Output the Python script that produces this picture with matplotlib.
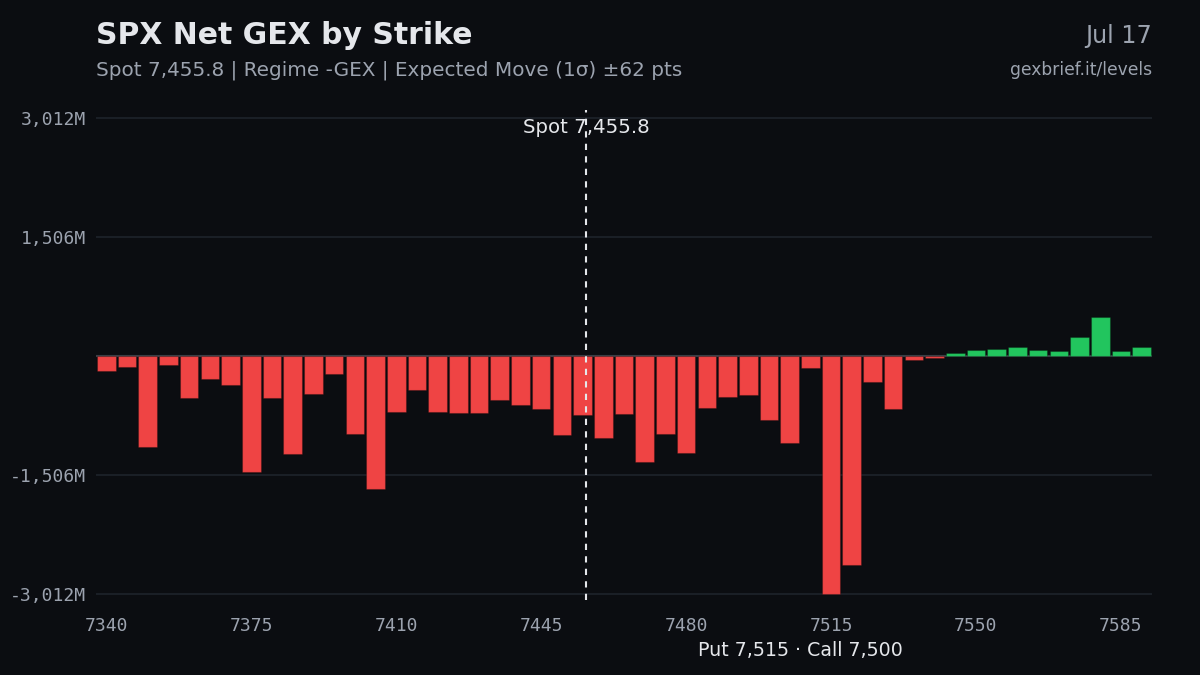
import matplotlib
matplotlib.use("Agg")
import matplotlib.pyplot as plt
import numpy as np

strikes = list(range(7340, 7595, 5))
gex_m = [
    -186, -143, -1156, -110, -532, -287, -371, -1464, -532, -1236,
    -485, -228, -991, -1679, -709, -434, -709,
    -717, -717, -553, -624, -667, -1004, -751, -1042, -738,
    -1341, -987, -1223, -662, -523, -489, -814, -1097, -152,
    -3012, -2645, -329, -663, -47, -18,
    38, 84, 92, 118, 80, 67, 240, 493, 71, 122,
]
xtick_vals = [7340, 7375, 7410, 7445, 7480, 7515, 7550, 7585]
spot = 7455.8
title = "SPX Net GEX by Strike"
subtitle = "Spot 7,455.8 | Regime -GEX | Expected Move (1σ) ±62 pts"
date_label = "Jul 17"
site_label = "gexbrief.it/levels"
spot_label = "Spot 7,455.8"
walls_label = "Put 7,515 · Call 7,500"

BG = "#0b0d11"
RED = "#ef4444"
GREEN = "#22c55e"
GRID = "#1e232b"
TICK = "#9ca3af"

fig = plt.figure(figsize=(12, 6.75), dpi=100, facecolor=BG)
ax = fig.add_axes([96 / 1200, 1 - 600 / 675, (1152 - 96) / 1200, 490 / 675])
ax.set_facecolor(BG)

vals = np.array(gex_m, dtype=float)
colors = [GREEN if v >= 0 else RED for v in vals]
ax.bar(strikes, vals, width=4.5, color=colors, edgecolor="#00000040", linewidth=0.8, zorder=3)

m = np.max(np.abs(vals))
ax.set_ylim(-m * 1.025, m * 1.035)
ax.set_xlim(strikes[0] - 2.5, strikes[-1] + 2.5)
yt = [-m, -m / 2, m / 2, m]
ax.set_yticks(yt)
ax.set_yticklabels([f"{v:,.0f}M" for v in yt])
ax.set_xticks(xtick_vals)
ax.set_xticklabels([str(v) for v in xtick_vals])
for lab in ax.get_xticklabels() + ax.get_yticklabels():
    lab.set_family("DejaVu Sans Mono")
    lab.set_fontsize(13)
    lab.set_color(TICK)
ax.tick_params(axis="x", length=0, pad=12)
ax.tick_params(axis="y", length=0, pad=7)
ax.grid(axis="y", color=GRID, linewidth=1.2, zorder=0)
ax.axhline(0, color="#3a3f47", linewidth=1.5, zorder=2)
for s in ax.spines.values():
    s.set_visible(False)

ax.axvline(spot, color="#e5e7eb", linestyle=(0, (3, 3)), linewidth=1.5, zorder=4)
ax.text(spot, m * 0.96, spot_label, ha="center", va="center", color="#e5e7eb",
        fontsize=14.2, zorder=5)

fig.text(96 / 1200, 1 - 35 / 675, title, ha="left", va="center", color="#e5e7eb",
         fontsize=21.5, fontweight="bold")
fig.text(96 / 1200, 1 - 70 / 675, subtitle, ha="left", va="center", color=TICK, fontsize=14.4)
fig.text(1152 / 1200, 1 - 36 / 675, date_label, ha="right", va="center", color=TICK, fontsize=17.2)
fig.text(1152 / 1200, 1 - 70 / 675, site_label, ha="right", va="center", color=TICK, fontsize=12.3)
fig.text(800 / 1200, 1 - 651 / 675, walls_label, ha="center", va="center", color="#e5e7eb",
         fontsize=13.7)

fig.savefig("out.png", dpi=100, facecolor=BG)
